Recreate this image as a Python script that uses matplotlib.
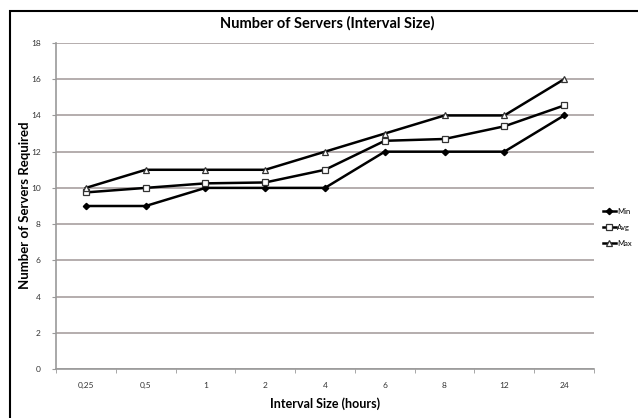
import matplotlib
matplotlib.use("Agg")
import matplotlib.pyplot as plt
from matplotlib.patches import Rectangle

categories = ["0,25", "0,5", "1", "2", "4", "6", "8", "12", "24"]
min_vals = [9, 9, 10, 10, 10, 12, 12, 12, 14]
avg_vals = [9.75, 10, 10.25, 10.3, 11, 12.6, 12.7, 13.4, 14.55]
max_vals = [10, 11, 11, 11, 12, 13, 14, 14, 16]
series_names = ["Min", "Avg", "Max"]

plt.rcParams['font.family'] = ['Lato', 'DejaVu Sans']

W, H = 638, 418
fig = plt.figure(figsize=(W / 100, H / 100), dpi=100)
ax = fig.add_axes([56 / W, 1 - 369 / H, (594 - 56) / W, (369 - 43) / H])

x = list(range(len(categories)))
ax.plot(x, min_vals, color='black', lw=1.8, marker='D', ms=3.2, mfc='black', mec='black', label=series_names[0])
ax.plot(x, avg_vals, color='black', lw=1.8, marker='s', ms=4.6, mfc='white', mec='#333333', mew=0.9, label=series_names[1])
ax.plot(x, max_vals, color='black', lw=1.8, marker='^', ms=5.0, mfc='white', mec='#333333', mew=0.9, label=series_names[2])

ax.set_ylim(0, 18)
ax.set_yticks(range(0, 19, 2))
ax.set_xlim(-0.5, len(categories) - 0.5)
ax.set_xticks(x)
ax.set_xticklabels(categories)
ax.set_xticks([i - 0.5 for i in range(len(categories) + 1)], minor=True)
ax.tick_params(axis='x', which='major', length=0, labelsize=6, pad=9, colors='#333333')
ax.tick_params(axis='x', which='minor', length=3, color='#999999')
ax.tick_params(axis='y', which='major', length=3, labelsize=6, pad=8, color='#999999', labelcolor='#333333')

ax.grid(axis='y', color='#a8a0a0', lw=1.2)
ax.set_axisbelow(True)
for s in ['top', 'right']:
    ax.spines[s].set_visible(False)
ax.spines['left'].set_color('#999999')
ax.spines['bottom'].set_color('#999999')
ax.spines['left'].set_linewidth(1.2)
ax.spines['bottom'].set_linewidth(1.2)

fig.text(327 / W, 1 - 23 / H, "Number of Servers (Interval Size)", ha='center', va='center',
         fontsize=10.5, fontweight='bold')
fig.text(325 / W, 1 - 404 / H, "Interval Size (hours)", ha='center', va='center',
         fontsize=9, fontweight='bold')
fig.text(25 / W, 1 - 205 / H, "Number of Servers Required", ha='center', va='center',
         rotation=90, fontsize=9.5, fontweight='bold')

leg = fig.legend(loc='upper left', bbox_to_anchor=(603 / W, 1 - 208 / H), frameon=False,
                 fontsize=5.5, handlelength=1.7, handletextpad=0.1, labelspacing=1.15,
                 borderaxespad=0, borderpad=0)

fig.patches.append(Rectangle((9.5 / W, -0.1), 1.2, 1 + 0.1 - 10.5 / H, transform=fig.transFigure,
                             fill=False, edgecolor='black', lw=1.5))

fig.savefig("out.png", dpi=100)
